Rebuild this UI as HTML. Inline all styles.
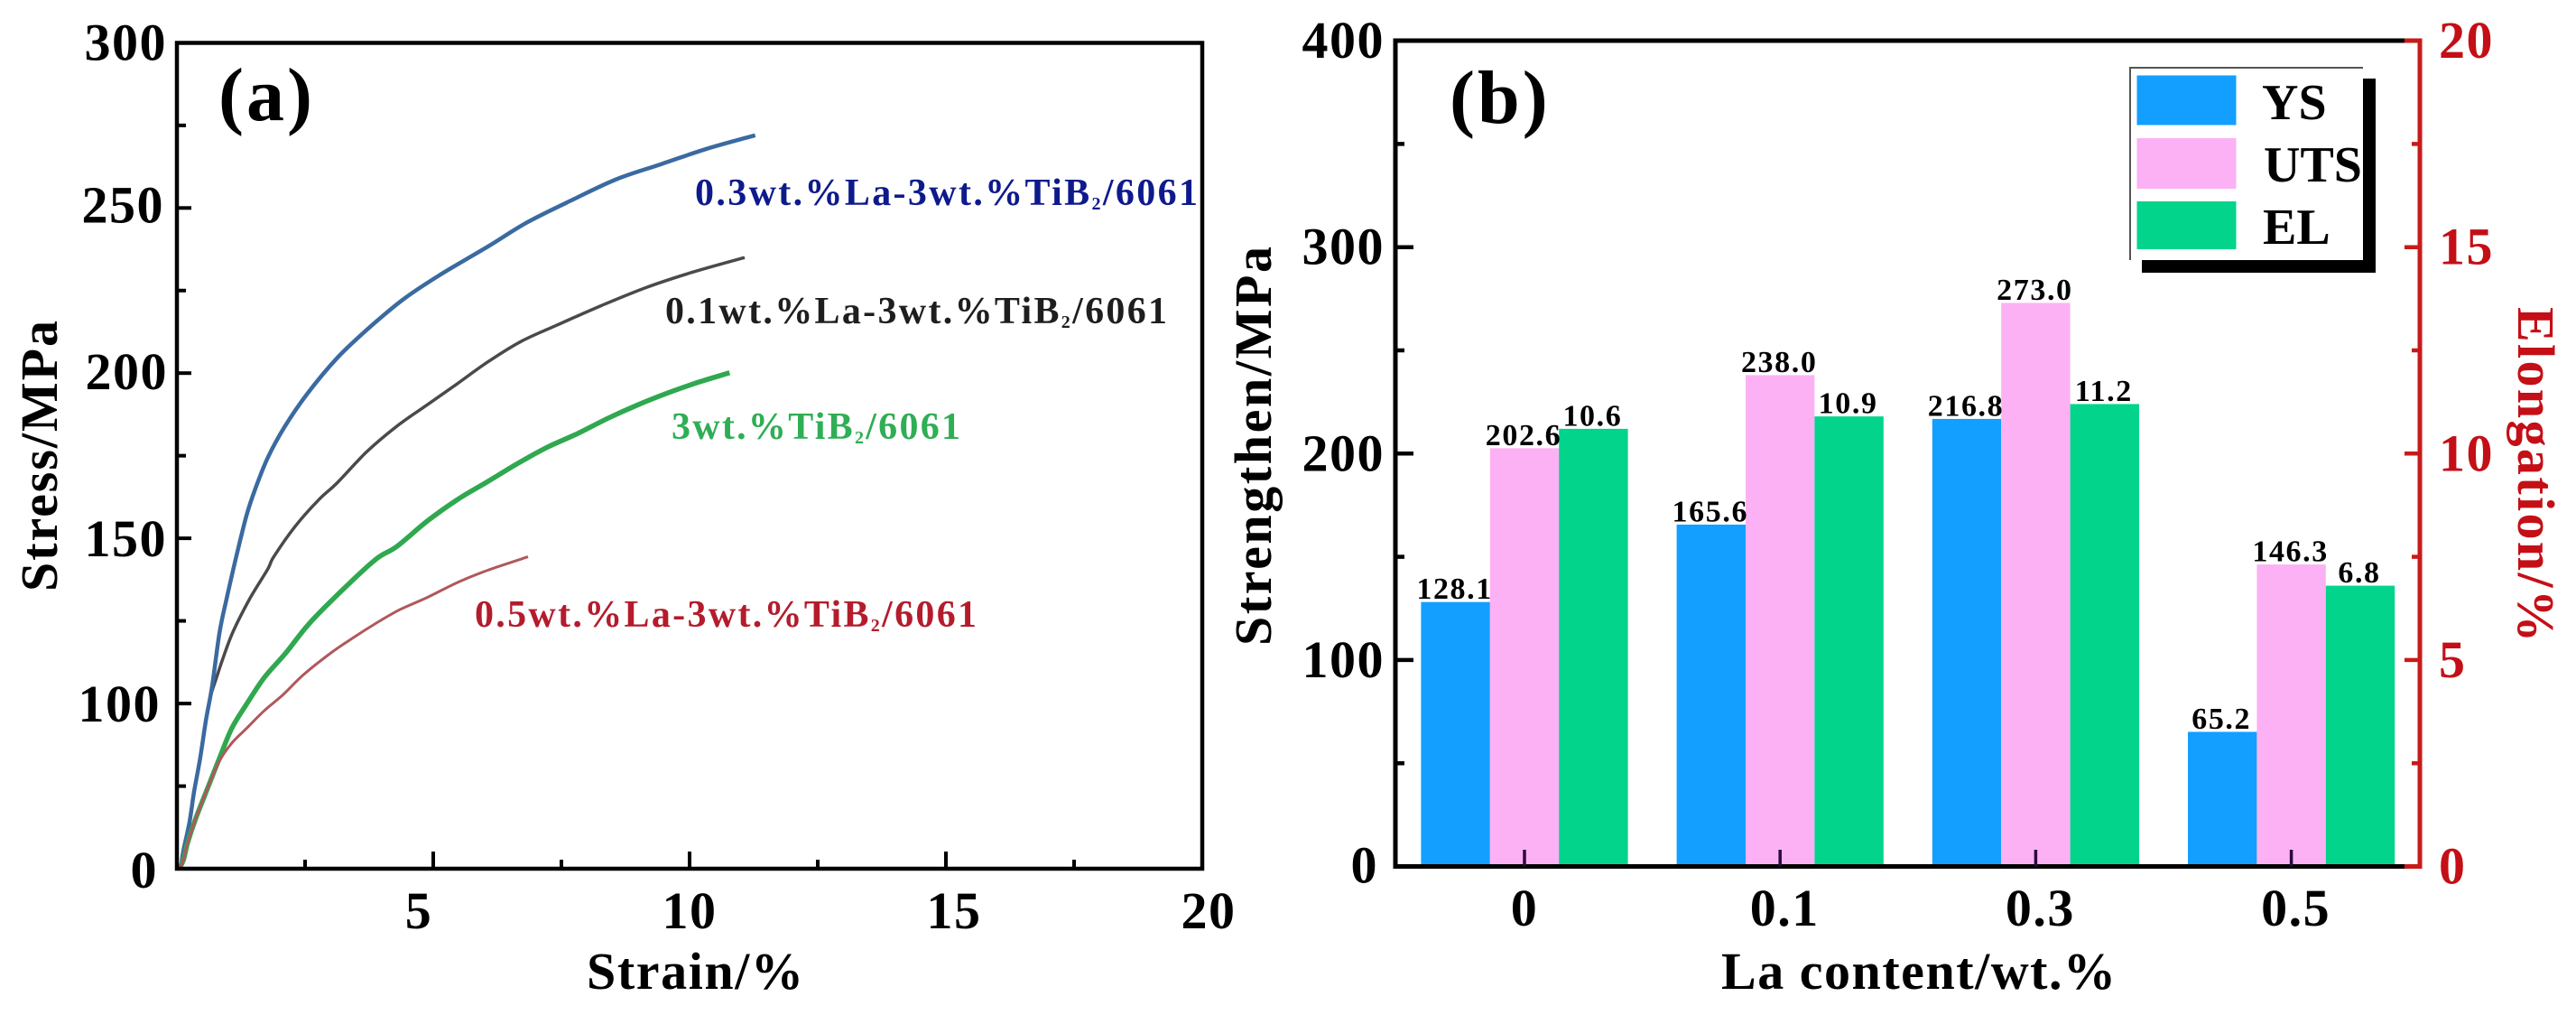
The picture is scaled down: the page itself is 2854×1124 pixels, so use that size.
<!DOCTYPE html>
<html lang="en">
<head>
<meta charset="utf-8">
<title>Stress-strain curves and tensile properties</title>
<style>
  html, body { margin: 0; padding: 0; background: #fff; }
  svg { display: block; }
  text { font-family: "Liberation Serif", serif; font-weight: bold; fill: #000; }
  .tick { font-size: 58px; letter-spacing: 1.5px; }
  .title { font-size: 58px; }
  .panel { font-size: 84px; letter-spacing: 3px; }
  .note { font-size: 42px; }
  .sub { font-size: 20px; }
  .value { font-size: 34px; letter-spacing: 1.6px; }
  .legend-text { font-size: 56px; }
  .red { fill: #c40f16; }
</style>
</head>
<body>
<svg id="chart" width="2854" height="1124" viewBox="0 0 2854 1124" xmlns="http://www.w3.org/2000/svg">
  <rect width="2854" height="1124" fill="#fff"/>

  <g id="panel-a">
    <g id="curves"></g>
    <rect x="196" y="47.5" width="1136" height="914.5" fill="none" stroke="#000" stroke-width="4.5"/>
    <g id="a-ticks"></g>
    <text class="panel" x="242" y="133">(a)</text>
    <text class="title" x="650" y="1095" textLength="240">Strain/%</text>
    <text class="title" transform="translate(63,655) rotate(-90)" textLength="300">Stress/MPa</text>
    <text class="note" x="770" y="227" textLength="557" style="fill:#0e1a8c">0.3wt.%La-3wt.%TiB<tspan class="sub" dy="5" style="fill:#0e1a8c">2</tspan><tspan dy="-5" style="fill:#0e1a8c">/6061</tspan></text>
    <text class="note" x="737" y="358" textLength="556" style="fill:#1e1e1e">0.1wt.%La-3wt.%TiB<tspan class="sub" dy="5" style="fill:#1e1e1e">2</tspan><tspan dy="-5" style="fill:#1e1e1e">/6061</tspan></text>
    <text class="note" x="744" y="486" textLength="320" style="fill:#2fae55">3wt.%TiB<tspan class="sub" dy="5" style="fill:#2fae55">2</tspan><tspan dy="-5" style="fill:#2fae55">/6061</tspan></text>
    <text class="note" x="526" y="694" textLength="556" style="fill:#b41c2c">0.5wt.%La-3wt.%TiB<tspan class="sub" dy="5" style="fill:#b41c2c">2</tspan><tspan dy="-5" style="fill:#b41c2c">/6061</tspan></text>
  </g>

  <g id="panel-b">
    <g id="bars"></g>
    <path d="M2664 45 H1546 V959.5 H2664" fill="none" stroke="#000" stroke-width="5"/>
    <path d="M2664 45 H2681 V959.5 H2664" fill="none" stroke="#c91a1a" stroke-width="5"/>
    <g id="b-ticks"></g>
    <g id="values"></g>
    <text class="panel" x="1606" y="136">(b)</text>
    <text class="title" x="1907" y="1095" textLength="437">La content/wt.%</text>
    <text class="title" transform="translate(1408,715) rotate(-90)" textLength="442">Strengthen/MPa</text>
    <text class="title red" transform="translate(2790,340) rotate(90)" textLength="371">Elongation/%</text>

    <g>
      <path d="M2360 288 V75 H2618" fill="none" stroke="#555" stroke-width="2"/>
      <path d="M2618 87 H2632 V302 H2373 V288 H2618 Z" fill="#000"/>
      <rect x="2367.5" y="83.5" width="110" height="55" fill="#139fff"/>
      <rect x="2367.5" y="153" width="110" height="56" fill="#fdb1f5"/>
      <rect x="2367.5" y="223" width="110" height="53" fill="#02d48c"/>
      <text class="legend-text" x="2506" y="132">YS</text>
      <text class="legend-text" x="2508" y="201">UTS</text>
      <text class="legend-text" x="2507" y="270">EL</text>
    </g>
  </g>
</svg>

<script>
// ---------- Panel (a) data ----------
const strain03 = [0.035,0.083,0.123,0.246,0.335,0.452,0.569,0.687,0.833,0.981,1.157,1.361,1.537,1.773,2.095,2.535,3.121,3.71,4.414,5.118,6.109,6.813,7.694,8.574,9.454,10.335,11.28];
const stress03 = [0,2.2,10.4,28.4,46.6,66.7,90.3,105.2,121.6,132.5,144.4,157.1,165.3,174.4,183.6,193.6,204.5,213.2,222.3,229.6,238.7,245.5,252.3,258.7,263.3,267.9,272];
const strain01 = [0.035,0.083,0.123,0.246,0.335,0.452,0.569,0.651,0.775,0.893,1.092,1.421,1.773,1.889,2.301,2.769,3.121,3.71,4.296,4.882,5.47,6.056,6.702,7.407,8.287,9.167,10.048,11.074];
const stress01 = [0,2.2,10.4,28.4,46.6,66.7,90.3,101.9,107.9,113.4,121.6,131.7,140.7,144.4,153.5,161.7,166.7,176.3,184,190.4,196.8,203.3,209.5,214.5,220.5,226,230.5,235];
const strainBase = [0.035,0.123,0.211,0.364,0.599,0.827,1.069,1.356,1.708,2.125,2.588,3.292,3.886,4.296,4.882,5.47,6.056,6.643,7.231,7.817,8.403,8.991,9.577,10.164,10.78];
const stressBase = [0,4.9,15.9,30.2,48.7,66.7,84.9,99.5,107.9,115.3,124.3,135.3,143.7,147.6,155.2,161.7,167.1,172.6,177.6,181.7,186.3,190.4,194,197.2,200.1];
const strain05 = [0.035,0.123,0.211,0.364,0.599,0.827,1.069,1.356,1.708,2.06,2.477,3.005,3.468,3.886,4.349,4.882,5.47,6.056,6.849];
const stress05 = [0,4.9,15.9,30.2,48.7,65,76,84.9,95.8,102.5,108.8,115.3,120.2,124.3,128.4,132.1,136.6,140.3,144.4];

const aXTickValues = [5,10,15,20];
const aXMinorValues = [2.5,7.5,12.5,17.5];
const aYTickValues = [0,100,150,200,250,300];
const aYMinorValues = [50,125,175,225,275];

// ---------- Panel (b) data ----------
const categories = ['0','0.1','0.3','0.5'];
const ysValues = [128.1,165.6,216.8,65.2];
const utsValues = [202.6,238.0,273.0,146.3];
const elValues = [10.6,10.9,11.2,6.8];
const bLeftTicks = [0,100,200,300,400];
const bLeftMinor = [50,150,250,350];
const bRightTicks = [0,5,10,15,20];
const bRightMinor = [2.5,7.5,12.5,17.5];

// ---------- Axis functions ----------
function xA(v) { return 196 + v * 56.8; }
// The printed axis has 0 then 100 one major step apart, then 50 per step.
function yA(v) { return v <= 100 ? 962 - v * 1.829 : 779 - (v - 100) * 3.658; }
function xB(i) { return 1689 + i * 283.2; }
function yLeft(v) { return 959.5 - v * 2.286; }
function yRight(v) { return 959.5 - v * 45.72; }

const NS = 'http://www.w3.org/2000/svg';
function make(tag, parent) {
  const el = document.createElementNS(NS, tag);
  parent.appendChild(el);
  return el;
}
function line(parent, name, x1, y1, x2, y2, color, width) {
  const el = make('line', parent);
  
  
  el.setAttribute('x1', x1);
  el.setAttribute('y1', y1);
  el.setAttribute('x2', x2);
  el.setAttribute('y2', y2);
  el.setAttribute('stroke', color);
  el.setAttribute('stroke-width', width);
  return el;
}
function label(parent, name, cls, x, y, anchor, content) {
  const el = make('text', parent);
  
  
  el.setAttribute('class', cls);
  el.setAttribute('x', x);
  el.setAttribute('y', y);
  el.setAttribute('text-anchor', anchor);
  el.textContent = content;
  return el;
}
function smoothPath(pts) {
  let d = 'M' + pts[0][0].toFixed(1) + ' ' + pts[0][1].toFixed(1);
  for (let i = 0; i < pts.length - 1; i++) {
    const p0 = pts[Math.max(i - 1, 0)], p1 = pts[i], p2 = pts[i + 1], p3 = pts[Math.min(i + 2, pts.length - 1)];
    const c1x = p1[0] + (p2[0] - p0[0]) / 6, c1y = p1[1] + (p2[1] - p0[1]) / 6;
    const c2x = p2[0] - (p3[0] - p1[0]) / 6, c2y = p2[1] - (p3[1] - p1[1]) / 6;
    d += ' C' + c1x.toFixed(1) + ' ' + c1y.toFixed(1) + ' ' + c2x.toFixed(1) + ' ' + c2y.toFixed(1) + ' ' + p2[0].toFixed(1) + ' ' + p2[1].toFixed(1);
  }
  return d;
}

// ---------- Draw panel (a) ----------
const curvesGroup = document.getElementById('curves');
function drawCurve(name, xs, ys, color, width) {
  const el = make('path', curvesGroup);
  
  
  el.setAttribute('d', smoothPath(xs.map(function (x, i) { return [xA(x), yA(ys[i])]; })));
  el.setAttribute('fill', 'none');
  el.setAttribute('stroke', color);
  el.setAttribute('stroke-width', width);
  el.setAttribute('stroke-linejoin', 'round');
}
drawCurve('curve-0-1la', strain01, stress01, '#4a4a4c', 3.5);
drawCurve('curve-0-3la', strain03, stress03, '#3a6aa0', 4.5);
drawCurve('curve-base', strainBase, stressBase, '#2fa84f', 5.5);
drawCurve('curve-0-5la', strain05, stress05, '#b0585c', 3);

const aTicks = document.getElementById('a-ticks');
const aXNudge = {5: -16, 10: 0, 15: 9, 20: 7};
aXTickValues.forEach(function (v) {
  line(aTicks, 'x-major-tick', xA(v), 962, xA(v), 943, '#000', 4);
  label(aTicks, 'x-tick-label', 'tick', xA(v) + aXNudge[v], 1028, 'middle', String(v));
});
aXMinorValues.forEach(function (v) {
  line(aTicks, 'x-minor-tick', xA(v), 962, xA(v), 952, '#000', 4);
});
const aYNudge = {0: {x: 175, y: 21}, 100: {x: 178, y: 20}, 150: {x: 185, y: 20}, 200: {x: 186, y: 18}, 250: {x: 182, y: 16}, 300: {x: 185, y: 19}};
aYTickValues.forEach(function (v) {
  if (v !== 0 && v !== 300) {
    line(aTicks, 'y-major-tick', 196, yA(v), 212, yA(v), '#000', 4);
  }
  label(aTicks, 'y-tick-label', 'tick', aYNudge[v].x, yA(v) + aYNudge[v].y, 'end', String(v));
});
aYMinorValues.forEach(function (v) {
  line(aTicks, 'y-minor-tick', 196, yA(v), 206, yA(v), '#000', 4);
});

// ---------- Draw panel (b) ----------
const barsGroup = document.getElementById('bars');
const valuesGroup = document.getElementById('values');
const barWidth = 76.4;
function drawBar(name, index, slot, top, color, printed) {
  const left = xB(index) + (slot - 1.5) * barWidth;
  const el = make('rect', barsGroup);
  
  
  el.setAttribute('x', left);
  el.setAttribute('y', top);
  el.setAttribute('width', barWidth);
  el.setAttribute('height', 959.5 - top);
  el.setAttribute('fill', color);
  label(valuesGroup, name + '-value', 'value', left + barWidth / 2 - 1, top - 3.5, 'middle', printed);
}
categories.forEach(function (c, i) {
  drawBar('bar-ys-' + c, i, 0, yLeft(ysValues[i]), '#139fff', ysValues[i].toFixed(1));
  drawBar('bar-uts-' + c, i, 1, yLeft(utsValues[i]), '#fdb1f5', utsValues[i].toFixed(1));
  drawBar('bar-el-' + c, i, 2, yRight(elValues[i]), '#02d48c', elValues[i].toFixed(1));
});

const bTicks = document.getElementById('b-ticks');
categories.forEach(function (c, i) {
  line(bTicks, 'category-tick', xB(i), 959.5, xB(i), 941, '#2a0a3a', 3.5);
  label(bTicks, 'category-label', 'tick', xB(i) + (i === 0 ? 0 : 5), 1025, 'middle', c);
});
bLeftTicks.forEach(function (v) {
  if (v !== 0 && v !== 400) {
    line(bTicks, 'left-major-tick', 1546, yLeft(v), 1566, yLeft(v), '#000', 4.5);
  }
  label(bTicks, 'left-tick-label', 'tick', v === 0 ? 1527 : 1534, yLeft(v) + (v === 0 ? 18 : 19), 'end', String(v));
});
bLeftMinor.forEach(function (v) {
  line(bTicks, 'left-minor-tick', 1546, yLeft(v), 1556, yLeft(v), '#000', 4.5);
});
bRightTicks.forEach(function (v) {
  if (v !== 0 && v !== 20) {
    line(bTicks, 'right-major-tick', 2681, yRight(v), 2664, yRight(v), '#c91a1a', 4.5);
  }
  label(bTicks, 'right-tick-label', 'tick red', 2702, yRight(v) + 19, 'start', String(v));
});
bRightMinor.forEach(function (v) {
  line(bTicks, 'right-minor-tick', 2681, yRight(v), 2672, yRight(v), '#c91a1a', 4.5);
});
</script>
</body>
</html>
